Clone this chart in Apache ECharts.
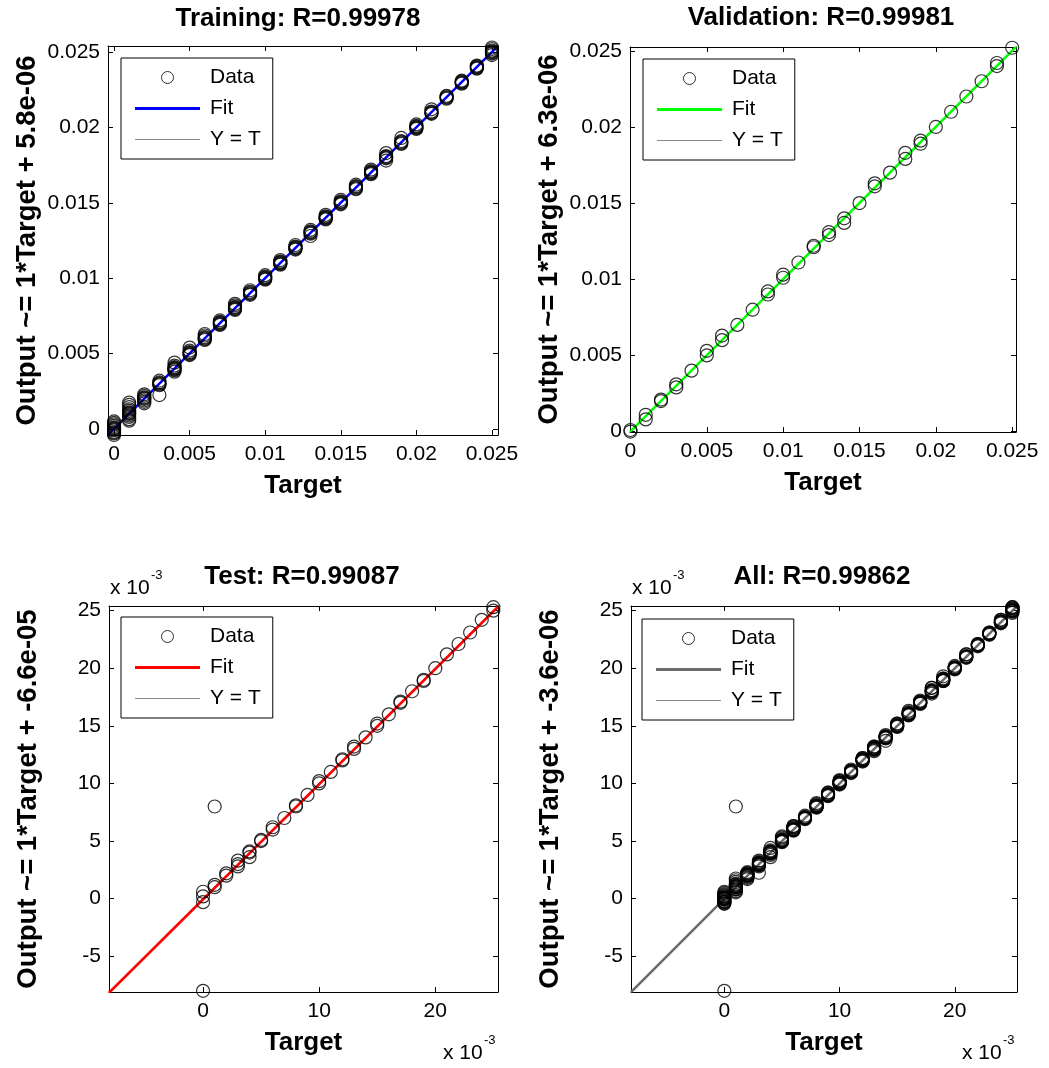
<!DOCTYPE html>
<html><head><meta charset="utf-8">
<script src="https://cdn.jsdelivr.net/npm/echarts@6/dist/echarts.min.js"></script>
<style>html,body{margin:0;padding:0;background:#fff}#c{width:1049px;height:1068px}</style>
</head><body><div id="c"></div>
<script>
// ---- data (all values in units of 1e-3) ----
const targets = [0,1,2,3,4,5,6,7,8,9,10,11,12,13,14,15,16,17,18,19,20,21,22,23,24,25];
const trainOut = [
  [-0.45,-0.4,-0.3,-0.25,-0.2,-0.1,-0.05,0,0.05,0.1,0.2,0.3,0.4,0.5],
  [0.55,0.65,0.8,0.9,1.0,1.05,1.1,1.2,1.3,1.45,1.6,1.75],
  [1.7,1.8,1.9,2.0,2.05,2.1,2.2,2.3],
  [2.25,2.9,2.95,3.0,3.05,3.1,3.2],
  [3.8,3.9,3.95,4.0,4.05,4.1,4.2,4.4],
  [4.9,4.95,5.0,5.05,5.1,5.2,5.4],
  [5.9,5.95,6.0,6.05,6.1,6.2,6.3],
  [6.9,6.95,7.0,7.05,7.1,7.2],
  [7.9,7.95,8.0,8.05,8.1,8.2,8.3],
  [8.9,8.95,9.0,9.05,9.1,9.2],
  [9.9,9.95,10.0,10.05,10.1,10.2],
  [10.9,10.95,11.0,11.05,11.1,11.2],
  [11.9,11.95,12.0,12.05,12.1,12.2],
  [12.8,12.95,13.0,13.05,13.1,13.2],
  [13.9,13.95,14.0,14.05,14.1,14.2],
  [14.9,14.95,15.0,15.05,15.1,15.2],
  [15.9,15.95,16.0,16.05,16.1,16.2],
  [16.9,16.95,17.0,17.05,17.1,17.2],
  [17.8,17.95,18.0,18.05,18.1,18.3],
  [18.9,18.95,19.0,19.05,19.1,19.3],
  [19.9,19.95,20.0,20.05,20.1,20.2],
  [20.9,20.95,21.0,21.05,21.2],
  [21.9,21.95,22.0,22.05,22.1],
  [22.9,22.95,23.0,23.05,23.1],
  [23.9,23.95,24.0,24.05,24.1],
  [24.8,24.9,24.95,25.0,25.05,25.1,25.2,25.3]
];
const valOut = [
  [0,0.1],[0.8,1.1],[2.0,2.1],[2.9,3.1],[4.0],[5.0,5.3],[6.0,6.3],[7.0],[8.0],[9.0,9.2],
  [10.1,10.3],[11.1],[12.1,12.2],[12.9,13.1],[13.7,14.0],[15.0],[16.1,16.3],[17.0],[17.9,18.3],[18.9,19.1],
  [20.0],[21.0],[22.0],[23.0],[24.0,24.2],[25.2]
];
const testOut = [
  [-8.0,-0.3,0.2,0.6],[1.0,1.2,8.0],[2.0,2.2],[2.8,3.0,3.3],[3.6,4.0,4.1],[5.0,5.1],[6.0,6.2],[7.0],[8.0,8.1],[9.0],
  [10.0,10.2],[11.0],[12.0,12.1],[13.0,13.2],[14.0],[15.0,15.2],[16.0],[17.0,17.1],[18.0],[18.9,19.0],
  [20.0],[21.2],[22.1],[23.1],[24.2],[25.0,25.3]
];
const panelTitles = ['Training: R=0.99978','Validation: R=0.99981','Test: R=0.99087','All: R=0.99862'];
const yAxisNames = ['Output ~= 1*Target + 5.8e-06','Output ~= 1*Target + 6.3e-06','Output ~= 1*Target + -6.6e-05','Output ~= 1*Target + -3.6e-06'];
const fitSlope = [1,1,1,1];
const fitIntercept = [0.0058,0.0063,-0.066,-0.0036]; // 5.8e-6 etc. in units of 1e-3
const axisLimits = [[-0.4,25.4],[-0.03,25.25],[-8.1,25.4],[-8.1,25.4]];
const ticksPlain = [0,5,10,15,20,25];          // labelled as 0 ... 0.025
const ticksScaledX = [0,10,20];               // labelled x 10^-3
const ticksScaledY = [-5,0,5,10,15,20,25];

// ---- layout ----
const FONT = 'Liberation Sans, Arial, Helvetica, sans-serif';
const grids = [
  {left:108, top:46, width:390, height:389},
  {left:630, top:47, width:386, height:385},
  {left:109, top:606, width:389, height:386},
  {left:631, top:606, width:386, height:386}
];
const fitColors = ['#0000ff','#00ff00','#ff0000','#6a6a6a'];
const legendPos = [[121,58],[643,59],[121,617],[642,619]];

function pairs(outs){ const r=[]; outs.forEach((arr,i)=>arr.forEach(y=>r.push([targets[i],y]))); return r; }
const trainPts = pairs(trainOut), valPts = pairs(valOut), testPts = pairs(testOut);
const panelPts = [trainPts, valPts, testPts, trainPts.concat(valPts, testPts)];

const xAxes=[], yAxes=[], series=[], legends=[], graphics=[];
const legendText = {D:'Data', F:'Fit', Y:'Y = T'};
for (let i=0;i<4;i++){
  const [mn,mx] = axisLimits[i];
  const scaled = i>=2;
  const tx = scaled ? ticksScaledX : ticksPlain;
  const ty = scaled ? ticksScaledY : ticksPlain;
  const fmt = scaled ? (v=>String(v)) : (v=>String(v/1000));
  const common = {type:'value', gridIndex:i, min:mn, max:mx, splitLine:{show:false},
    axisLine:{show:true, onZero:false, lineStyle:{color:'#000', width:1}}};
  xAxes.push(Object.assign({}, common, {position:'bottom',
    name:'Target', nameLocation:'middle', nameGap:38,
    nameTextStyle:{fontSize:26, fontWeight:'bold', color:'#000', fontFamily:FONT},
    axisTick:{show:true, inside:true, length:5, customValues:tx, lineStyle:{color:'#000'}},
    axisLabel:{show:true, customValues:tx, formatter:fmt, margin:9, fontSize:21, color:'#000', fontFamily:FONT}}));
  xAxes.push(Object.assign({}, common, {position:'top',
    axisTick:{show:true, inside:true, length:5, customValues:tx, lineStyle:{color:'#000'}},
    axisLabel:{show:false}}));
  yAxes.push(Object.assign({}, common, {position:'left',
    name:yAxisNames[i], nameLocation:'middle', nameGap:67,
    nameTextStyle:{fontSize:27.5, fontWeight:'bold', color:'#000', fontFamily:FONT},
    axisTick:{show:true, inside:true, length:5, customValues:ty, lineStyle:{color:'#000'}},
    axisLabel:{show:true, customValues:ty, formatter:fmt, margin:8, fontSize:21, color:'#000', fontFamily:FONT}}));
  yAxes.push(Object.assign({}, common, {position:'right',
    axisTick:{show:true, inside:true, length:5, customValues:ty, lineStyle:{color:'#000'}},
    axisLabel:{show:false}}));

  const b = fitIntercept[i], s = fitSlope[i];
  series.push({name:'Y_'+i, type:'line', xAxisIndex:2*i, yAxisIndex:2*i, symbol:'none', silent:true, z:2,
    color:'#000', lineStyle:{color:'#000', width:1, type:'dotted'}, data:[[mn,mn],[mx,mx]]});
  series.push({name:'F_'+i, type:'line', xAxisIndex:2*i, yAxisIndex:2*i, symbol:'none', silent:true, z:3,
    color:fitColors[i], lineStyle:{color:fitColors[i], width:2.5}, data:[[mn,s*mn+b],[mx,s*mx+b]]});
  series.push({name:'D_'+i, type:'scatter', xAxisIndex:2*i, yAxisIndex:2*i, symbol:'circle', symbolSize:13, silent:true, z:4,
    itemStyle:{color:'rgba(0,0,0,0)', borderColor:'#000', borderWidth:1.2}, data:panelPts[i]});

  legends.push({left:legendPos[i][0], top:legendPos[i][1], orient:'vertical', selectedMode:false,
    backgroundColor:'#fff', borderColor:'#000', borderWidth:1, borderRadius:0,
    padding:[9,12,9,14], itemGap:10, itemWidth:65, itemHeight:12, symbolKeepAspect:true,
    textStyle:{fontSize:21, color:'#000', fontFamily:FONT, padding:[0,0,0,5]},
    formatter:(n)=>legendText[n.split('_')[0]],
    data:[
      {name:'D_'+i, icon:'circle', itemStyle:{color:'rgba(0,0,0,0)', borderColor:'#000', borderWidth:1}},
      {name:'F_'+i, icon:'path://M0,0H65V3H0Z', itemStyle:{color:fitColors[i], borderWidth:0}},
      {name:'Y_'+i, icon:'path://M0,0H65V1H0Z', itemStyle:{color:'#8a8a8a', borderWidth:0}}
    ]});
}
const titleCenters = [[298,19],[821,18],[302,577],[822,577]];
titleCenters.forEach((c,i)=>graphics.push({type:'text', x:c[0], y:c[1],
  style:{text:panelTitles[i], fill:'#000', font:'bold 26px '+FONT, textAlign:'center', textVerticalAlign:'middle'}}));
// "x 10^-3" multipliers for scaled panels
const mult = [[110,588],[443,1053],[632,588],[962,1053]];
mult.forEach(p=>{
  graphics.push({type:'text', x:p[0], y:p[1], style:{text:'x 10', fill:'#000', font:'21px '+FONT, textAlign:'left', textVerticalAlign:'middle'}});
  graphics.push({type:'text', x:p[0]+41, y:p[1]-13, style:{text:'-3', fill:'#000', font:'13px '+FONT, textAlign:'left', textVerticalAlign:'middle'}});
});

const chart = echarts.init(document.getElementById('c'), null, {renderer:'canvas'});
chart.setOption({
  backgroundColor:'#fff', animation:false,
  grid: grids.map(g=>Object.assign({containLabel:false}, g)),
  xAxis:xAxes, yAxis:yAxes, series:series, legend:legends, graphic:graphics
});
</script></body></html>
